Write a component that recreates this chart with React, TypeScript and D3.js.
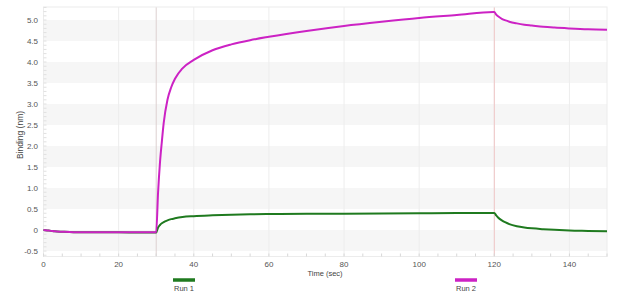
import React from "react";
import * as d3 from "d3";

const times = [0, 1, 2, 3, 5, 8, 12, 20, 29.8, 30, 30.5, 31, 31.5, 32, 33, 34, 35, 37, 40, 45, 50, 55, 60, 70, 80, 90, 100, 110, 119.8, 120, 120.5, 121, 122, 123, 124, 126, 128, 130, 133, 136, 140, 145, 150];
const run1 = [0, -0.01, -0.02, -0.03, -0.04, -0.05, -0.05, -0.055, -0.06, -0.06, 0.06, 0.12, 0.16, 0.19, 0.23, 0.26, 0.28, 0.31, 0.33, 0.35, 0.365, 0.375, 0.38, 0.385, 0.39, 0.395, 0.4, 0.405, 0.405, 0.405, 0.35, 0.3, 0.23, 0.18, 0.14, 0.09, 0.06, 0.04, 0.02, 0.005, -0.01, -0.02, -0.03];
const run2 = [0, -0.01, -0.02, -0.03, -0.04, -0.05, -0.05, -0.05, -0.05, -0.05, 0.9, 1.6, 2.1, 2.55, 3.1, 3.4, 3.6, 3.85, 4.05, 4.28, 4.42, 4.52, 4.6, 4.74, 4.86, 4.96, 5.05, 5.12, 5.19, 5.19, 5.13, 5.09, 5.03, 4.99, 4.96, 4.92, 4.89, 4.87, 4.84, 4.82, 4.8, 4.78, 4.77];
const xTicks = [0, 20, 40, 60, 80, 100, 120, 140];
const yTicks = [-0.5, 0, 0.5, 1.0, 1.5, 2.0, 2.5, 3.0, 3.5, 4.0, 4.5, 5.0];
const stepMarks = [30, 120];
const seriesNames = ["Run 1", "Run 2"];
const seriesColors = ["#1f7a1f", "#cc22c4"];

export default function App() {
  const W = 640, H = 300;
  const x = d3.scaleLinear().domain([0, 150]).range([43.5, 607]);
  const y = d3.scaleLinear().domain([-0.63, 5.31]).range([256.5, 7]);
  const [x0, x1] = x.range();
  const [yb, yt] = y.range();
  const line = (vals: number[]) =>
    d3.line<number>().x((_, i) => x(times[i])).y((v) => y(v)).curve(d3.curveMonotoneX)(vals) || "";
  const bands: number[] = [];
  for (let v = -0.5; v < 5.3; v += 1) bands.push(v);
  const minorX = d3.range(0, 151, 5);
  const minorY = d3.range(-6, 54).map((k) => k / 10);
  const font = "Arial, 'Liberation Sans', sans-serif";
  const legendX = [184, 466];
  return (
    <svg width={W} height={H} style={{ position: "absolute", left: 0, top: 0 }} fontFamily={font}>
      <rect x={0} y={0} width={W} height={H} fill="#fff" />
      {bands.map((b) => (
        <rect key={b} x={x0} width={x1 - x0} y={y(b + 0.5)} height={y(b) - y(b + 0.5)} fill="#f6f6f6" />
      ))}
      {xTicks.map((t) => (
        <line key={t} x1={x(t)} x2={x(t)} y1={yt} y2={yb} stroke="#ededed" strokeWidth={1} />
      ))}
      {stepMarks.map((t, i) => (
        <line key={t} x1={x(t)} x2={x(t)} y1={yt} y2={yb} stroke={i === 0 ? "#dcd0d0" : "#f0c6c6"} strokeWidth={1} />
      ))}
      <rect x={x0} y={yt} width={x1 - x0} height={yb - yt} fill="none" stroke="#ececec" />
      {minorX.map((t) => (
        <line key={t} x1={x(t)} x2={x(t)} y1={yb} y2={yb - 3} stroke="#d8d8d8" />
      ))}
      {minorY.map((v) => (
        <line key={v} x1={x0} x2={x0 + 3} y1={y(v)} y2={y(v)} stroke="#e0e0e0" />
      ))}
      {yTicks.map((v) => (
        <text key={v} x={38} y={y(v) + 2.8} fontSize={8} fill="#555" textAnchor="end">
          {v === 0 ? "0" : v.toFixed(1)}
        </text>
      ))}
      {xTicks.map((t) => (
        <text key={t} x={x(t)} y={267} fontSize={8} fill="#555" textAnchor="middle">
          {t}
        </text>
      ))}
      <text x={325} y={275.5} fontSize={7.5} fill="#444" textAnchor="middle">Time (sec)</text>
      <text transform={`translate(23,135) rotate(-90)`} fontSize={8.5} fill="#444" textAnchor="middle">
        Binding (nm)
      </text>
      <path d={line(run1)} fill="none" stroke={seriesColors[0]} strokeWidth={2} />
      <path d={line(run2)} fill="none" stroke={seriesColors[1]} strokeWidth={2} />
      {seriesNames.map((n, i) => (
        <g key={n}>
          <line x1={legendX[i] - 11} x2={legendX[i] + 11} y1={280} y2={280} stroke={seriesColors[i]} strokeWidth={3.5} />
          <text x={legendX[i]} y={291} fontSize={7.5} fill="#444" textAnchor="middle">{n}</text>
        </g>
      ))}
    </svg>
  );
}
